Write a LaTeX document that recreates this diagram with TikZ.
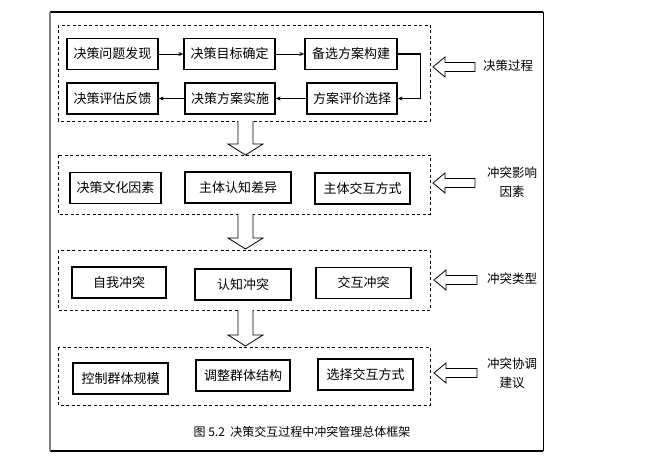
\documentclass[tikz,border=0pt]{standalone}
\usepackage{fontspec}
\setmainfont{Noto Sans CJK SC}
\usetikzlibrary{arrows.meta}

\begin{document}
\begin{tikzpicture}[x=1pt,y=-1pt,
    stepbox/.style={draw, line width=1.3pt, minimum height=31pt, inner sep=0pt, font=\fontsize{13}{15}\selectfont},
    groupbox/.style={draw, line width=0.9pt, dash pattern=on 3pt off 2.5pt},
    flow/.style={-{Stealth[length=5pt,width=4pt]}, line width=0.9pt},
    bigarrow/.style={draw, line width=0.8pt, fill=white},
    sidelabel/.style={font=\fontsize{12.5}{19}\selectfont, align=center}]
    \useasboundingbox (0,0) rectangle (646,460);

    % Outer frame
    \draw[line width=2pt] (50,12) -- (543,12);
    \draw[line width=2pt] (50,451) -- (543,451);
    \draw[line width=2pt, gray] (50,12) -- (50,451);
    \draw[line width=1pt] (543,12) -- (543,451);

    % Decision process
    \draw[groupbox] (58,25) rectangle (430,121);
    \node[stepbox, minimum width=91pt] (find) at (112.5,54) {决策问题发现};
    \node[stepbox, minimum width=91pt] (goal) at (229.5,54) {决策目标确定};
    \node[stepbox, minimum width=92pt] (build) at (351,54) {备选方案构建};
    \node[stepbox, minimum width=91pt] (feed) at (112.5,98.5) {决策评估反馈};
    \node[stepbox, minimum width=90pt] (run) at (230,98.5) {决策方案实施};
    \node[stepbox, minimum width=90pt] (pick) at (352,98.5) {方案评价选择};
    \draw[flow] (find) -- (goal);
    \draw[flow] (goal) -- (build);
    \draw[flow, line width=1.3pt] (build.east) -- ++(23,0) |- (pick.east);
    \draw[flow] (pick) -- (run);
    \draw[flow] (run) -- (feed);

    % Influence factors
    \draw[groupbox] (58,155) rectangle (430,214);
    \node[stepbox, minimum width=91pt] (culture) at (115.5,188) {决策文化因素};
    \node[stepbox, minimum width=106pt] (cognition) at (238,187.5) {主体认知差异};
    \node[stepbox, minimum width=95pt] (mode) at (362.5,188.5) {主体交互方式};

    % Conflict types
    \draw[groupbox] (58,250) rectangle (430,310);
    \node[stepbox, minimum width=94pt] (self) at (119,282.5) {自我冲突};
    \node[stepbox, minimum width=96pt] (cogconf) at (243,284.5) {认知冲突};
    \node[stepbox, minimum width=95pt] (interconf) at (363.5,283) {交互冲突};

    % Coordination advice
    \draw[groupbox] (58,347) rectangle (430,405);
    \node[stepbox, minimum width=95pt] (size) at (120.5,378.5) {控制群体规模};
    \node[stepbox, minimum width=94pt] (struct) at (243,375.5) {调整群体结构};
    \node[stepbox, minimum width=95pt] (choose) at (365.5,374.5) {选择交互方式};

    % Down arrows between groups
    \draw[bigarrow] (238,121) -- (238,144) -- (228,144) -- (245.5,155) -- (263,144) -- (253,144) -- (253,121);
    \draw[bigarrow] (238,214) -- (238,238) -- (228,238) -- (245.5,249) -- (263,238) -- (253,238) -- (253,214);
    \draw[bigarrow] (238,310) -- (238,335) -- (228,335) -- (245.5,346) -- (263,335) -- (253,335) -- (253,310);

    % Side arrows and labels
    \draw[bigarrow] (433,67) -- (445,57) -- (445,62.5) -- (475,62.5) -- (475,71.5) -- (445,71.5) -- (445,77) -- cycle;
    \draw[bigarrow] (433,183) -- (445,173) -- (445,178.5) -- (475,178.5) -- (475,187.5) -- (445,187.5) -- (445,193) -- cycle;
    \draw[bigarrow] (434,280) -- (446,270) -- (446,275.5) -- (477,275.5) -- (477,284.5) -- (446,284.5) -- (446,290) -- cycle;
    \draw[bigarrow] (434,373) -- (446,363) -- (446,368.5) -- (477,368.5) -- (477,377.5) -- (446,377.5) -- (446,383) -- cycle;
    \node[sidelabel] (lab1) at (508,66) {决策过程};
    \node[sidelabel] (lab2) at (512,182.5) {冲突影响\\因素};
    \node[sidelabel] (lab3) at (512,279) {冲突类型};
    \node[sidelabel] (lab4) at (512,373.5) {冲突协调\\建议};

    % Caption
    \node[font=\fontsize{12}{14}\selectfont] (caption) at (302,432) {图 5.2\ \ 决策交互过程中冲突管理总体框架};
\end{tikzpicture}
\end{document}
